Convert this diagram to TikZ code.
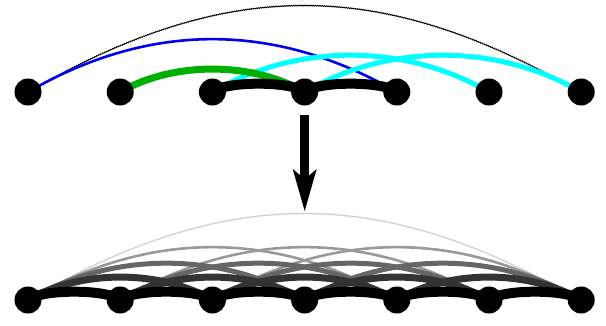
\documentclass[tikz,border=0pt]{standalone}
\usetikzlibrary{arrows.meta,decorations.pathmorphing,backgrounds}
\definecolor{grA}{HTML}{00B000}
\definecolor{cyA}{HTML}{00FFFF}
\definecolor{blA}{HTML}{0000F0}
\definecolor{gB}{HTML}{333333}
\definecolor{gC}{HTML}{666666}
\definecolor{gD}{HTML}{999999}
\definecolor{gF}{HTML}{CCCCCC}
\begin{document}
\begin{tikzpicture}[x=1pt,y=1pt,
  dot/.style={circle,fill=black,inner sep=0pt,minimum size=27pt},
  sone/.style={line width=10pt,out=40,in=140,looseness=0.48},
  stwo/.style={line width=7pt,out=30,in=150,looseness=0.85},
  sthree/.style={line width=5pt,out=30,in=150,looseness=0.91},
  sfour/.style={line width=2.6pt,out=30,in=150,looseness=0.98},
  ssix/.style={line width=0.9pt,out=30,in=150,looseness=1.07,decorate,
    decoration={snake,amplitude=0.4pt,segment length=2.2pt}},
  bigarrow/.style={line width=9pt,-{Stealth[length=42pt,width=24pt,inset=10pt,line width=0pt]}}
]
\useasboundingbox (0,0) rectangle (606,325);
\foreach \i in {1,...,7} {
  \node[dot] (t\i) at ({28+92.2*(\i-1)},233) {};
  \node[dot] (b\i) at ({28+92.2*(\i-1)},25) {};
}
\coordinate (arrtop) at (304.7,210);
\coordinate (arrtip) at (304.7,114);
\begin{pgfonlayer}{background}
  % top row
  \draw[ssix,black] (t1.center) to (t7.center);
  \draw[sfour,blA] (t1.center) to (t5.center);
  \draw[sthree,cyA] (t3.center) to (t6.center);
  \draw[sthree,cyA] (t4.center) to (t7.center);
  \draw[stwo,grA] (t2.center) to (t4.center);
  \draw[sone,black] (t3.center) to (t4.center);
  \draw[sone,black] (t4.center) to (t5.center);
  % bottom row
  \draw[ssix,gF] (b1.center) to (b7.center);
  \foreach \a/\b in {1/5,2/6,3/7} \draw[sfour,gD] (b\a.center) to (b\b.center);
  \foreach \a/\b in {1/4,2/5,3/6,4/7} \draw[sthree,gC] (b\a.center) to (b\b.center);
  \foreach \a/\b in {1/3,2/4,3/5,4/6,5/7} \draw[stwo,gB] (b\a.center) to (b\b.center);
  \foreach \a/\b in {1/2,2/3,3/4,4/5,5/6,6/7} \draw[sone,black] (b\a.center) to (b\b.center);
\end{pgfonlayer}
\draw[bigarrow] (arrtop) -- (arrtip);
\end{tikzpicture}
\end{document}
